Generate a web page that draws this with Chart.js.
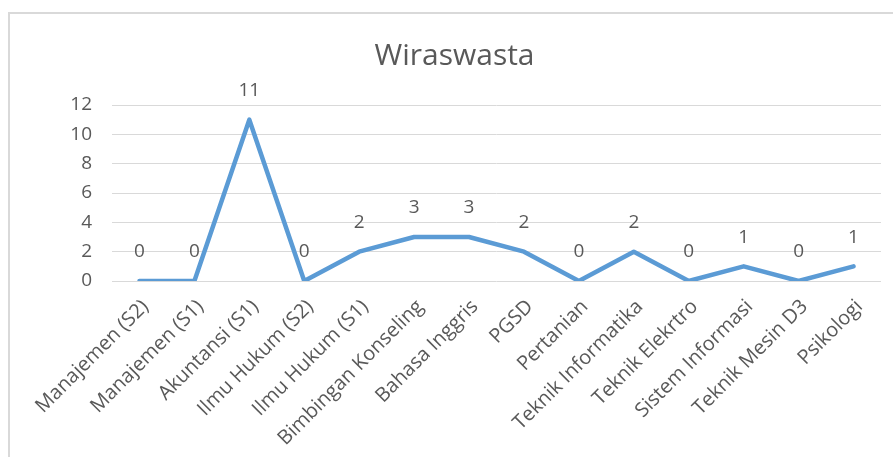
<!DOCTYPE html>
<html>
<head>
<meta charset="utf-8">
<script src="https://cdn.jsdelivr.net/npm/chart.js@4/dist/chart.umd.min.js"></script>
<style>
html,body{margin:0;padding:0;background:#fff;overflow:hidden;}
#wrap{position:relative;width:893px;height:457px;}
#frame{position:absolute;left:8px;top:12px;width:900px;height:460px;border:2px solid #d9d9d9;pointer-events:none;}
canvas{position:absolute;left:0;top:0;}
</style>
</head>
<body>
<div id="wrap">
<canvas id="c" width="893" height="457"></canvas>
<div id="frame"></div>
</div>
<script>
const categories = ["Manajemen (S2)","Manajemen (S1)","Akuntansi (S1)","Ilmu Hukum (S2)","Ilmu Hukum (S1)","Bimbingan Konseling","Bahasa Inggris","PGSD","Pertanian","Teknik Informatika","Teknik Elekrtro","Sistem Informasi","Teknik Mesin D3","Psikologi"];
const values = [0,0,11,0,2,3,3,2,0,2,0,1,0,1];
const yTicks = [0,2,4,6,8,10,12];
const chartTitle = "Wiraswasta";

const FONT = "'Open Sans', sans-serif";
const TEXT = "#595959";

const labelPlugin = {
  id: 'pointLabels',
  afterDatasetsDraw(chart) {
    const ctx = chart.ctx;
    const meta = chart.getDatasetMeta(0);
    ctx.save();
    ctx.font = "19px " + FONT;
    ctx.fillStyle = TEXT;
    ctx.textAlign = 'center';
    ctx.textBaseline = 'middle';
    meta.data.forEach((pt, i) => {
      ctx.fillText(String(values[i]), pt.x, pt.y - 29);
    });
    ctx.restore();
  }
};

new Chart(document.getElementById('c'), {
  type: 'line',
  data: {
    labels: categories,
    datasets: [{
      data: values,
      borderColor: '#5B9BD5',
      borderWidth: 4.5,
      pointRadius: 0,
      tension: 0,
      borderCapStyle: 'round',
      borderJoinStyle: 'round'
    }]
  },
  options: {
    responsive: false,
    animation: false,
    devicePixelRatio: 1,
    layout: { padding: { top: 0, right: 12, left: 28, bottom: 0 } },
    plugins: {
      legend: { display: false },
      tooltip: { enabled: false },
      title: {
        display: true,
        text: chartTitle,
        color: TEXT,
        font: { family: FONT, size: 30, weight: 'normal', lineHeight: 1.2 },
        padding: { top: 38, bottom: 31 }
      }
    },
    scales: {
      x: {
        type: 'category',
        offset: true,
        grid: { display: false, drawTicks: false },
        border: { display: false },
        ticks: {
          color: TEXT,
          font: { family: FONT, size: 20 },
          minRotation: 45,
          maxRotation: 45,
          autoSkip: false,
          padding: 14,
          labelOffset: 6
        },
        afterFit(scale) { scale.height = 176; }
      },
      y: {
        min: 0,
        max: 12,
        afterBuildTicks(scale) { scale.ticks = yTicks.map(v => ({ value: v })); },
        grid: { color: '#d9d9d9', lineWidth: 1, drawTicks: false },
        border: { display: false },
        ticks: {
          color: TEXT,
          font: { family: FONT, size: 19 },
          padding: 20
        },
        afterFit(scale) { scale.width = 84; }
      }
    }
  },
  plugins: [labelPlugin]
});
</script>
</body>
</html>
